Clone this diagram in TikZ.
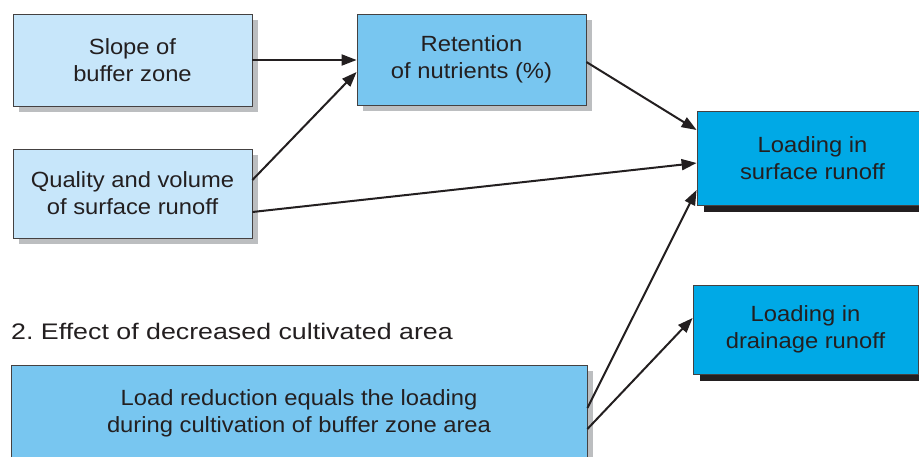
\documentclass[tikz,border=0pt]{standalone}
\usepackage{fontspec}
\setmainfont{Liberation Sans}
\newfontfamily\boxfont[FakeStretch=1.08]{Liberation Sans}
\newfontfamily\headfont[FakeStretch=1.19]{Liberation Sans}
\usetikzlibrary{arrows.meta,shadows,calc}
\definecolor{inkdark}{HTML}{231F20}
\definecolor{paleblue}{HTML}{C7E6FA}
\definecolor{midblue}{HTML}{78C6F0}
\definecolor{deepblue}{HTML}{00A9E6}
\definecolor{shadowgray}{HTML}{BCBEC0}
\tikzset{
  box/.style={draw=inkdark!85, line width=0.8pt, align=center, inner sep=0pt,
    text=inkdark, font=\boxfont\fontsize{22}{27}\selectfont},
  softshadow/.style={drop shadow={shadow xshift=6pt, shadow yshift=-6pt,
    fill=shadowgray, opacity=1}},
  hardshadow/.style={drop shadow={shadow xshift=7pt, shadow yshift=-7pt,
    fill=inkdark, opacity=1}},
  inbox/.style={box, fill=paleblue, softshadow},
  midbox/.style={box, fill=midblue, softshadow},
  outbox/.style={box, fill=deepblue, hardshadow},
  flow/.style={draw=inkdark, line width=2pt,
    -{Triangle[length=15pt,width=11pt]}},
}
\begin{document}
\frenchspacing
\begin{tikzpicture}[x=1pt,y=-1pt]
  \useasboundingbox (0,0) rectangle (919,456);

  % input boxes
  \node[inbox, minimum width=239pt, minimum height=92pt] (slope) at (132.5,60)
    {Slope of\\buffer zone};
  \node[inbox, minimum width=239pt, minimum height=89pt] (quality) at (132.5,193.5)
    {Quality and volume\\of surface runoff};
  \node[midbox, minimum width=229pt, minimum height=91pt] (retention) at (471.5,59.5)
    {Retention\\of nutrients (\%)};

  % output boxes
  \node[outbox, minimum width=231pt, minimum height=94pt] (surface) at (812.5,158)
    {Loading in\\surface runoff};
  \node[outbox, minimum width=225pt, minimum height=89pt] (drainage) at (805.5,329.5)
    {Loading in\\drainage runoff};

  % second mechanism
  \node[anchor=west, inner sep=0pt, text=inkdark,
    font=\headfont\fontsize{22.5}{27}\selectfont]
    (heading) at (11,331) {2. Effect of decreased cultivated area};
  \node[midbox, minimum width=576pt, minimum height=96pt] (load) at (299,413)
    {Load reduction equals the loading\\during cultivation of buffer zone area};

  % connectors
  \draw[flow] (slope.east) -- (slope.east -| retention.west);
  \draw[flow] ([yshift=13.5pt]quality.east) -- ([yshift=-12.5pt]retention.west);
  \draw[flow] ([yshift=-2.5pt]retention.east) -- ([yshift=28pt]surface.west);
  \draw[flow] ([yshift=-18.5pt]quality.east) -- ([yshift=-5pt]surface.west);
  \draw[flow] ([yshift=5pt]load.east) -- ([yshift=-32pt]surface.west);
  \draw[flow] ([yshift=-16pt]load.east) -- ([yshift=11.5pt]drainage.west);
\end{tikzpicture}
\end{document}
